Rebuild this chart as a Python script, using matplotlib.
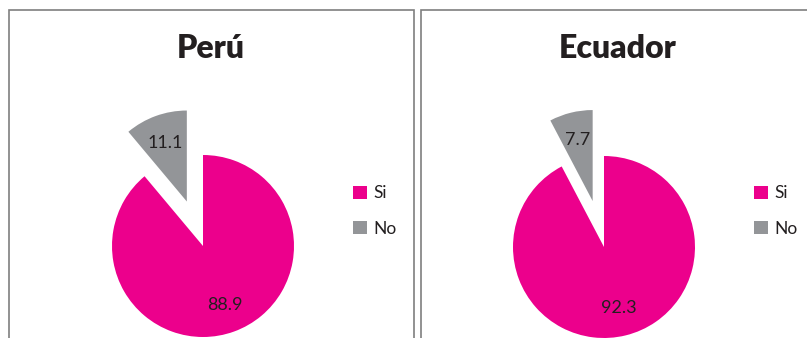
import matplotlib.pyplot as plt
from matplotlib.patches import Rectangle

# data
countries = ['Perú', 'Ecuador']
categories = ['Si', 'No']
si_values = [88.9, 92.3]
no_values = [11.1, 7.7]

colors = ['#EC008C', '#939598']
text_color = '#231F20'
plt.rcParams['font.family'] = ['Lato', 'DejaVu Sans']

W, H = 807, 338
fig = plt.figure(figsize=(W / 100, H / 100), dpi=100)

# panel layout in pixels (left, right, pie centre, title x, legend x)
panels = [
    dict(left=9, right=414, cx=203, cy=246, tx=211, lx=353),
    dict(left=421, right=830, cx=604, cy=247, tx=618, lx=754),
]
R = 91      # pie radius in px
S = 400     # axes box in px

for i, p in enumerate(panels):
    # panel frame (bottom is cut off by the image edge)
    fig.add_artist(Rectangle((p['left'] / W, -0.1), (p['right'] - p['left']) / W,
                             (H - 10) / H + 0.1, transform=fig.transFigure,
                             fill=False, edgecolor='#7F7F7F', linewidth=1.2))

    ax = fig.add_axes([(p['cx'] - S / 2) / W, (H - p['cy'] - S / 2) / H, S / W, S / H])
    vals = [si_values[i], no_values[i]]
    wedges, texts, autotexts = ax.pie(
        vals, colors=colors, startangle=90, counterclock=False,
        explode=[0, 0.52], autopct=lambda v: f'{v:.1f}', pctdistance=0.69,
        wedgeprops=dict(linewidth=0),
        textprops=dict(fontsize=13, color=text_color))
    lim = S / 2 / R
    ax.set_xlim(-lim, lim)
    ax.set_ylim(-lim, lim)
    ax.set_aspect('equal')
    ax.axis('off')

    # title
    fig.text(p['tx'] / W, (H - 48) / H, countries[i], ha='center', va='center',
             fontsize=23, fontweight='heavy', color=text_color)

    fig.legend(wedges, categories, loc='center left',
               bbox_to_anchor=(p['lx'] / W, (H - 211) / H),
               frameon=False, borderpad=0, borderaxespad=0,
               handlelength=0.8, handleheight=0.8, handletextpad=0.35,
               labelspacing=1.1, fontsize=12.5, labelcolor=text_color)

fig.savefig('out.png', dpi=100)
